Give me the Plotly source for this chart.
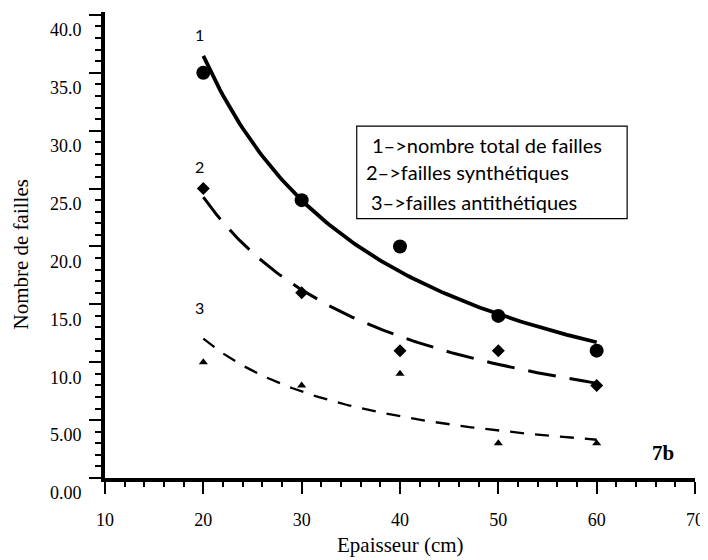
import numpy as np
import plotly.graph_objects as go

# Data
epaisseur = [20, 30, 40, 50, 60]
total_failles = [35, 24, 20, 14, 11]
failles_synth = [25, 16, 11, 11, 8]
failles_anti = [10, 8, 9, 3, 3]

y_tickvals = [0, 5, 10, 15, 20, 25, 30, 35, 40]
y_ticktext = ["0.00", "5.00", "10.0", "15.0", "20.0", "25.0", "30.0", "35.0", "40.0"]
x_tickvals = [10, 20, 30, 40, 50, 60, 70]

legend_lines = ["1–>nombre total de failles", "2–>failles synthétiques", "3–>failles antithétiques"]
series_labels = ["1", "2", "3"]


def power_fit(x, y):
    x = np.asarray(x, float)
    y = np.asarray(y, float)
    b, ln_a = np.polyfit(np.log(x), np.log(y), 1)
    xs = np.linspace(x.min(), x.max(), 120)
    return xs, np.exp(ln_a) * xs ** b


fig = go.Figure()

styles = [
    (total_failles, "circle", 14, "solid", 3.8),
    (failles_synth, "diamond", 10, "28px,14px", 3.0),
    (failles_anti, "triangle-up", 8, "14px,11px", 2.3),
]
for ys, sym, msize, dash, lw in styles:
    xs, fy = power_fit(epaisseur, ys)
    fig.add_trace(go.Scatter(x=xs, y=fy, mode="lines",
                             line=dict(color="black", width=lw, dash=dash),
                             showlegend=False, hoverinfo="skip"))
    fig.add_trace(go.Scatter(x=epaisseur, y=ys, mode="markers",
                             marker=dict(symbol=sym, size=msize, color="black"),
                             showlegend=False))

serif = "Liberation Serif"
sans = "Lato"

# series numbers
label_y = [38.3, 26.9, 14.7]
for txt, yy in zip(series_labels, label_y):
    fig.add_annotation(x=19.6, y=yy, text=txt, showarrow=False,
                       font=dict(family=sans, size=16, color="black"))

# legend box
fig.add_shape(type="rect", x0=35.6, x1=63.1, y0=22.4, y1=30.4,
              line=dict(color="black", width=1.2), fillcolor="white")
leg_x = [36.9, 36.3, 36.8]
leg_y = [28.8, 26.4, 23.8]
for txt, lx, ly in zip(legend_lines, leg_x, leg_y):
    fig.add_annotation(x=lx, y=ly, text=txt, showarrow=False, xanchor="left",
                       font=dict(family=sans, size=20, color="black"))

fig.add_annotation(x=66.7, y=2.2, text="<b>7b</b>", showarrow=False,
                   font=dict(family=serif, size=21, color="black"))

# axis titles as annotations (fixed pixel positions)
fig.add_annotation(xref="paper", yref="paper", x=0.5, y=-0.144, yanchor="middle",
                   text="Epaisseur (cm)", showarrow=False,
                   font=dict(family=serif, size=21, color="black"))
fig.add_annotation(xref="paper", yref="paper", x=-0.142, y=0.48, xanchor="center",
                   textangle=-90, text="Nombre de failles", showarrow=False,
                   font=dict(family=serif, size=21, color="black"))

# page body adds an 8px margin, so the figure is 8px smaller and offset
fig.update_layout(
    width=700, height=552,
    margin=dict(l=97, r=11, t=4, b=82),
    plot_bgcolor="white", paper_bgcolor="white",
    font=dict(family=serif, size=18, color="black"),
)
fig.update_xaxes(
    range=[10, 70], tickvals=x_tickvals, ticktext=[str(v) for v in x_tickvals],
    showline=True, linecolor="black", linewidth=4, showgrid=False, zeroline=False,
    ticks="outside", ticklen=12, tickwidth=2, tickcolor="black",
    minor=dict(dtick=2, ticks="outside", ticklen=5, tickwidth=1.5, tickcolor="black"),
    ticklabelstandoff=10,
    tickfont=dict(family=serif, size=18),
)
fig.update_yaxes(
    range=[0, 40.25], tickvals=y_tickvals, ticktext=y_ticktext,
    showline=True, linecolor="black", linewidth=4, showgrid=False, zeroline=False,
    ticks="outside", ticklen=12, tickwidth=2, tickcolor="black",
    minor=dict(dtick=1, ticks="outside", ticklen=6, tickwidth=1.5, tickcolor="black"),
    ticklabelshift=15, ticklabelstandoff=4,
    tickfont=dict(family=serif, size=18),
)

fig.write_html("out.html")
